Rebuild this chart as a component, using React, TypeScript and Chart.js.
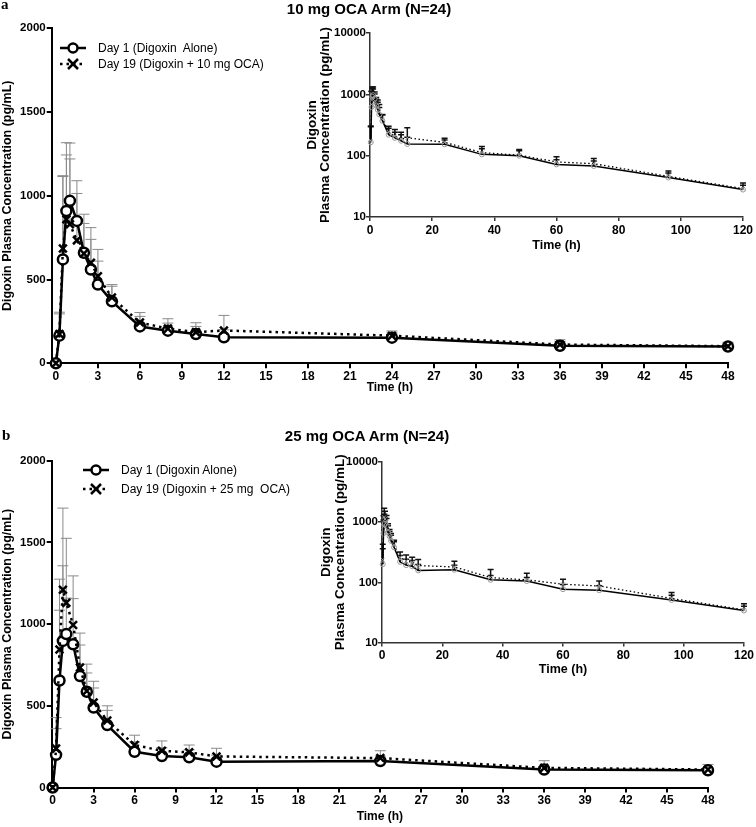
import React, { useEffect, useRef } from "react";
import { Chart, registerables } from "chart.js";
Chart.register(...registerables);

// ---------- DATA ----------
const TIME = [0, 0.25, 0.5, 0.75, 1, 1.5, 2, 2.5, 3, 4, 6, 8, 10, 12, 24, 36, 48, 60, 72, 96, 120];

// Panel a: 10 mg OCA arm
const A_DAY1 = [0, 165, 620, 910, 970, 850, 660, 560, 470, 370, 220, 195, 175, 155, 153, 105, 100, 72, 68, 44, 28];
const A_DAY1_SD = [0, 140, 500, 407, 345, 240, 230, 250, 210, 100, 60, 45, 45, 45, 27, 25, 20, 14, 14, 8, 5];
const A_DAY19 = [0, 175, 685, 860, 830, 734, 655, 600, 520, 393, 243, 207, 186, 196, 165, 112, 102, 79, 74, 46, 29];
const A_DAY19_SD = [0, 120, 430, 384, 390, 280, 180, 140, 90, 67, 60, 59, 56, 90, 28, 29, 24, 17, 16, 10, 7];

// Panel b: 25 mg OCA arm
const B_DAY1 = [0, 200, 655, 897, 939, 876, 682, 586, 489, 382, 219, 193, 185, 158, 162, 110, 105, 77, 74, 51, 34];
const B_DAY1_SD = [0, 160, 430, 460, 220, 280, 190, 115, 120, 90, 60, 50, 45, 40, 30, 20, 15, 15, 14, 10, 6];
const B_DAY19 = [0, 238, 845, 1210, 1130, 995, 735, 590, 520, 410, 260, 225, 215, 190, 180, 120, 110, 93, 87, 54, 35];
const B_DAY19_SD = [0, 190, 430, 500, 395, 300, 210, 165, 130, 90, 60, 60, 45, 50, 45, 44, 31, 20, 18, 14, 9];

const MAIN_X_TICKS = [0, 3, 6, 9, 12, 15, 18, 21, 24, 27, 30, 33, 36, 39, 42, 45, 48];
const MAIN_Y_TICKS = [0, 500, 1000, 1500, 2000];
const INSET_X_TICKS = [0, 20, 40, 60, 80, 100, 120];
const INSET_Y_TICKS = [10, 100, 1000, 10000];

const TITLE_A = "10 mg OCA Arm (N=24)";
const TITLE_B = "25 mg OCA Arm (N=24)";
const LEG_A = ["Day 1 (Digoxin  Alone)", "Day 19 (Digoxin + 10 mg OCA)"];
const LEG_B = ["Day 1 (Digoxin Alone)", "Day 19 (Digoxin + 25 mg  OCA)"];
const Y_TITLE = "Digoxin Plasma Concentration (pg/mL)";
const INSET_Y_TITLE = ["Digoxin", "Plasma Concentration (pg/mL)"];
const X_TITLE = "Time (h)";

const FONT = "'Liberation Sans', Arial, sans-serif";

// ---------- error bar plugin ----------
const errorBarPlugin = {
  id: "errorBars",
  beforeDatasetsDraw(chart: any, _args: any, opts: any) {
    const { ctx } = chart;
    const yScale = chart.scales.y;
    ctx.save();
    ctx.strokeStyle = opts.color || "#777";
    ctx.lineWidth = opts.width || 1;
    const cap = opts.cap || 10;
    chart.data.datasets.forEach((ds: any, i: number) => {
      const meta = chart.getDatasetMeta(i);
      meta.data.forEach((pt: any, j: number) => {
        const raw = ds.data[j];
        if (!raw || !raw.sd) return;
        const x = pt.x;
        const y0 = pt.y;
        const y1 = yScale.getPixelForValue(raw.y + raw.sd);
        ctx.beginPath();
        ctx.moveTo(x, y0);
        ctx.lineTo(x, y1);
        ctx.moveTo(x - cap / 2, y1);
        ctx.lineTo(x + cap / 2, y1);
        ctx.stroke();
      });
    });
    ctx.restore();
  },
};

function pts(vals: number[], sds: number[], filter: (t: number, v: number) => boolean) {
  const out: any[] = [];
  TIME.forEach((t, i) => {
    if (filter(t, vals[i])) out.push({ x: t, y: vals[i], sd: sds[i] });
  });
  return out;
}

type MainSpec = {
  day1: number[]; day1sd: number[]; day19: number[]; day19sd: number[];
  padTop: number; padRight: number;
  yAxisW: number; xAxisH: number; xMin: number; xTitlePad: number;
};

function mainConfig(s: MainSpec): any {
  return {
    type: "line",
    data: {
      datasets: [
        {
          label: "Day 1",
          order: 1,
          data: pts(s.day1, s.day1sd, (t) => t <= 48),
          borderColor: "#000",
          borderWidth: 2.5,
          pointStyle: "circle",
          pointRadius: 5,
          pointBorderWidth: 2.5,
          pointBorderColor: "#000",
          pointBackgroundColor: "#fff",
          tension: 0,
          clip: false,
        },
        {
          label: "Day 19",
          order: 0,
          data: pts(s.day19, s.day19sd, (t) => t <= 48),
          borderColor: "#000",
          borderWidth: 2.5,
          borderDash: [2.5, 4],
          pointStyle: "crossRot",
          pointRadius: 5.5,
          pointBorderWidth: 2.5,
          pointBorderColor: "#000",
          pointBackgroundColor: "#000",
          tension: 0,
          clip: false,
        },
      ],
    },
    options: {
      responsive: false,
      animation: false,
      events: [],
      layout: { padding: { top: s.padTop, right: s.padRight, left: 0, bottom: 0 } },
      plugins: {
        legend: { display: false },
        tooltip: { enabled: false },
        errorBars: { color: "#8a8a8a", width: 1, cap: 11 },
      },
      scales: {
        x: {
          type: "linear",
          min: s.xMin,
          max: 48,
          afterBuildTicks: (sc: any) => { sc.ticks = MAIN_X_TICKS.map((v) => ({ value: v })); },
          afterFit: (sc: any) => { sc.height = s.xAxisH; },
          grid: { drawOnChartArea: false, drawTicks: true, tickLength: 5, color: "#000", lineWidth: 2 },
          border: { display: true, color: "#000", width: 2 },
          ticks: { font: { family: FONT, size: 12, weight: "bold" }, color: "#000", padding: 1, maxRotation: 0, autoSkip: false, callback: (v: any) => String(v) },
          title: { display: true, text: X_TITLE, color: "#000", font: { family: FONT, size: 12, weight: "bold" }, padding: { top: 0, bottom: s.xTitlePad } },
        },
        y: {
          type: "linear",
          min: 0,
          max: 2000,
          afterBuildTicks: (sc: any) => { sc.ticks = MAIN_Y_TICKS.map((v) => ({ value: v })); },
          afterFit: (sc: any) => { sc.width = s.yAxisW; },
          grid: { drawOnChartArea: false, drawTicks: true, tickLength: 5, color: "#000", lineWidth: 2 },
          border: { display: true, color: "#000", width: 2 },
          ticks: { font: { family: FONT, size: 11.5, weight: "bold" }, color: "#000", padding: 1, callback: (v: any) => String(v) },
          title: { display: true, text: Y_TITLE, color: "#000", font: { family: FONT, size: 12.5, weight: "bold" }, padding: { top: 0, bottom: 0 } },
        },
      },
    },
    plugins: [errorBarPlugin],
  };
}

type InsetSpec = {
  day1: number[]; day1sd: number[]; day19: number[]; day19sd: number[];
  padTop: number; padRight: number; yAxisW: number; xAxisH: number; yTitlePad: number; xTitlePad: number;
};

function insetConfig(s: InsetSpec): any {
  const tickFont = { family: FONT, size: 11.5, weight: "bold" as const };
  return {
    type: "line",
    data: {
      datasets: [
        {
          label: "Day 1",
          order: 1,
          data: pts(s.day1, s.day1sd, (_t, v) => v > 0),
          borderColor: "#000",
          borderWidth: 1.5,
          pointStyle: "circle",
          pointRadius: 2.5,
          pointBorderWidth: 1,
          pointBorderColor: "#999",
          pointBackgroundColor: "rgba(255,255,255,0)",
          tension: 0,
          clip: false,
        },
        {
          label: "Day 19",
          order: 0,
          data: pts(s.day19, s.day19sd, (_t, v) => v > 0),
          borderColor: "#000",
          borderWidth: 1.3,
          borderDash: [1.5, 2.5],
          pointStyle: "crossRot",
          pointRadius: 2.5,
          pointBorderWidth: 1,
          pointBorderColor: "#999",
          tension: 0,
          clip: false,
        },
      ],
    },
    options: {
      responsive: false,
      animation: false,
      events: [],
      layout: { padding: { top: s.padTop, right: s.padRight, left: 0, bottom: 0 } },
      plugins: {
        legend: { display: false },
        tooltip: { enabled: false },
        errorBars: { color: "#111", width: 1.5, cap: 6 },
      },
      scales: {
        x: {
          type: "linear",
          min: 0,
          max: 120,
          afterBuildTicks: (sc: any) => { sc.ticks = INSET_X_TICKS.map((v) => ({ value: v })); },
          afterFit: (sc: any) => { sc.height = s.xAxisH; },
          grid: { drawOnChartArea: false, drawTicks: true, tickLength: 4, color: "#333", lineWidth: 1.5 },
          border: { display: true, color: "#333", width: 1.5 },
          ticks: { font: { family: FONT, size: 12, weight: "bold" }, color: "#000", padding: 2, maxRotation: 0, autoSkip: false, callback: (v: any) => String(v) },
          title: { display: true, text: X_TITLE, color: "#000", font: { family: FONT, size: 12.5, weight: "bold" }, padding: { top: 0, bottom: s.xTitlePad } },
        },
        y: {
          type: "logarithmic",
          min: 10,
          max: 10000,
          afterBuildTicks: (sc: any) => { sc.ticks = INSET_Y_TICKS.map((v) => ({ value: v })); },
          afterFit: (sc: any) => { sc.width = s.yAxisW; },
          grid: { drawOnChartArea: false, drawTicks: true, tickLength: 4, color: "#333", lineWidth: 1.5 },
          border: { display: true, color: "#333", width: 1.5 },
          ticks: { font: tickFont, color: "#000", padding: 0, callback: (v: any) => String(v) },
          title: { display: true, text: INSET_Y_TITLE, color: "#000", font: { family: FONT, size: 13.5, weight: "bold", lineHeight: 0.98 }, padding: { top: s.yTitlePad, bottom: 0 } },
        },
      },
    },
    plugins: [errorBarPlugin],
  };
}

function ChartCanvas({ config, left, top, width, height }: { config: any; left: number; top: number; width: number; height: number }) {
  const ref = useRef<HTMLCanvasElement | null>(null);
  useEffect(() => {
    if (!ref.current) return;
    const c = new Chart(ref.current, config);
    return () => c.destroy();
  }, [config]);
  return <canvas ref={ref} width={width} height={height} style={{ position: "absolute", left, top, width, height }} />;
}

function LegendRow({ x, y, textX, dotted, text }: { x: number; y: number; textX: number; dotted: boolean; text: string }) {
  return (
    <>
      <svg style={{ position: "absolute", left: x, top: y - 8 }} width={28} height={16}>
        {dotted ? (
          <>
            <line x1={1} y1={8} x2={27} y2={8} stroke="#000" strokeWidth={2.5} strokeDasharray="2.5 4" />
            <line x1={9} y1={3} x2={19} y2={13} stroke="#000" strokeWidth={2.5} />
            <line x1={19} y1={3} x2={9} y2={13} stroke="#000" strokeWidth={2.5} />
          </>
        ) : (
          <>
            <line x1={1} y1={8} x2={27} y2={8} stroke="#000" strokeWidth={2.5} />
            <circle cx={14} cy={8} r={4.5} stroke="#000" strokeWidth={2.5} fill="#fff" />
          </>
        )}
      </svg>
      <div style={{ position: "absolute", left: textX, top: y - 8, font: `12px ${FONT}`, lineHeight: "16px", whiteSpace: "pre", color: "#000" }}>{text}</div>
    </>
  );
}

const mainA = mainConfig({
  day1: A_DAY1, day1sd: A_DAY1_SD, day19: A_DAY19, day19sd: A_DAY19_SD,
  padTop: 28.3, padRight: 28, yAxisW: 51.7, xAxisH: 36.7, xMin: -0.3, xTitlePad: 4.8,
});
const insetA = insetConfig({
  day1: A_DAY1, day1sd: A_DAY1_SD, day19: A_DAY19, day19sd: A_DAY19_SD,
  padTop: 13, padRight: 13, yAxisW: 90, xAxisH: 53, yTitlePad: 25.4, xTitlePad: 16.5,
});
const mainB = mainConfig({
  day1: B_DAY1, day1sd: B_DAY1_SD, day19: B_DAY19, day19sd: B_DAY19_SD,
  padTop: 40.7, padRight: 48, yAxisW: 51.7, xAxisH: 39.5, xMin: -0.07, xTitlePad: 2.8,
});
const insetB = insetConfig({
  day1: B_DAY1, day1sd: B_DAY1_SD, day19: B_DAY19, day19sd: B_DAY19_SD,
  padTop: 22, padRight: 10.3, yAxisW: 92, xAxisH: 47.5, yTitlePad: 30, xTitlePad: 12.5,
});

export default function App() {
  return (
    <div style={{ position: "absolute", left: 0, top: 0, width: 756, height: 827, background: "#fff", overflow: "hidden" }}>
      <ChartCanvas config={mainA} left={0} top={0} width={756} height={400} />
      <ChartCanvas config={insetA} left={280} top={20} width={476} height={250} />
      <ChartCanvas config={mainB} left={0} top={420} width={756} height={407} />
      <ChartCanvas config={insetB} left={290} top={440} width={466} height={250} />

      <div style={{ position: "absolute", left: 1, top: -4, font: "bold 15px 'Liberation Serif', serif" }}>a</div>
      <div style={{ position: "absolute", left: 2, top: 427, font: "bold 15px 'Liberation Serif', serif" }}>b</div>

      <div style={{ position: "absolute", left: 0, width: 738, top: 0, textAlign: "center", font: `bold 15px ${FONT}`, lineHeight: "18px" }}>{TITLE_A}</div>
      <div style={{ position: "absolute", left: 0, width: 734, top: 427, textAlign: "center", font: `bold 15px ${FONT}`, lineHeight: "18px" }}>{TITLE_B}</div>

      <LegendRow x={59} y={48} textX={98} dotted={false} text={LEG_A[0]} />
      <LegendRow x={59} y={64} textX={98} dotted={true} text={LEG_A[1]} />
      <LegendRow x={82} y={470} textX={121} dotted={false} text={LEG_B[0]} />
      <LegendRow x={82} y={489} textX={121} dotted={true} text={LEG_B[1]} />
    </div>
  );
}
